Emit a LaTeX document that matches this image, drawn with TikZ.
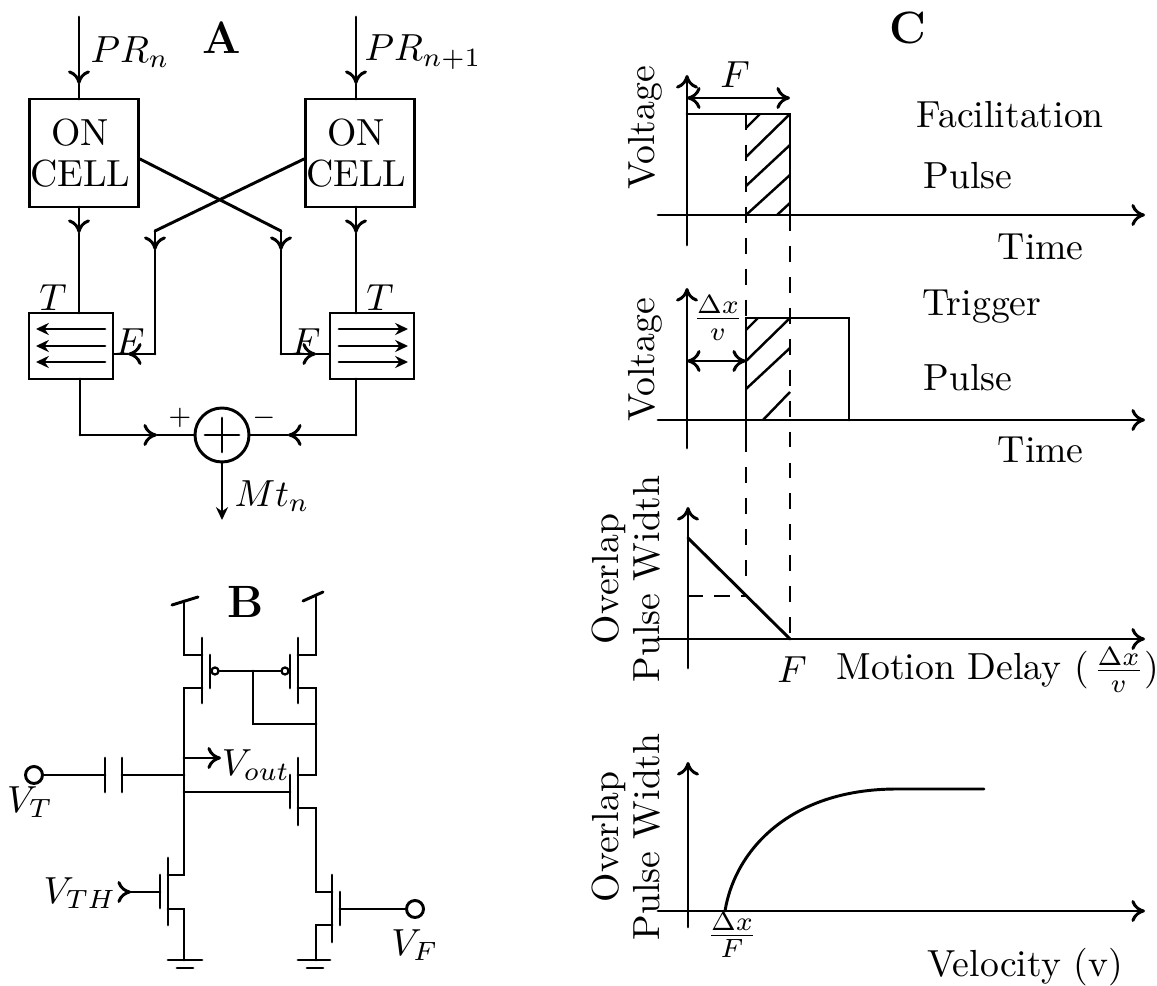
\documentclass[tikz,border=0pt]{standalone}
\usetikzlibrary{arrows.meta}
\newcommand\px{0.265pt}
\tikzset{
  wire/.style={line width=0.78pt,line cap=round,line join=miter},
  chev/.style={wire,-{Computer Modern Rightarrow[length=3.6pt,width=5.8pt]}},
  dchev/.style={wire,{Computer Modern Rightarrow[length=3.6pt,width=5.8pt]}-{Computer Modern Rightarrow[length=3.6pt,width=5.8pt]}},
  solidtip/.style={wire,-{Stealth[length=3.4pt,width=3.2pt]}},
  cellbox/.style={draw,line width=0.78pt,minimum width=109*\px,minimum height=108*\px,inner sep=0pt,align=center},
  tbox/.style={draw,line width=0.78pt,minimum width=84*\px,minimum height=66*\px,inner sep=0pt},
  sumnode/.style={draw,circle,line width=0.78pt,minimum size=54*\px,inner sep=0pt},
  pin/.style={draw,circle,fill=white,line width=0.78pt,minimum size=17*\px,inner sep=0pt},
  bubble/.style={draw,circle,fill=white,line width=0.6pt,minimum size=7*\px,inner sep=0pt},
  lab/.style={inner sep=0pt},
  vlab/.style={inner sep=0pt,rotate=90},
  heading/.style={inner sep=0pt,font=\large\bfseries},
  dashline/.style={wire,dash pattern=on 4.2pt off 4pt,line cap=butt},
  hatch/.style={line width=0.65pt}
}
\begin{document}
\begin{tikzpicture}[x=\px,y=-\px]
\useasboundingbox (0,0) rectangle (1157,986);

% ---------- A ----------
\node[heading] (headA) at (222,38) {A};
\coordinate (inL) at (79,17);
\coordinate (inR) at (356,17);
\node[cellbox] (cellL) at (84,153) {\hspace*{-2pt}ON\\[-1pt]\hspace*{-2pt}CELL};
\node[cellbox] (cellR) at (360,153) {\hspace*{-2pt}ON\\[-1pt]\hspace*{-2pt}CELL};
\node[tbox] (tL) at (71,346) {};
\node[tbox] (tR) at (372,346) {};
\node[sumnode] (sum) at (222,435) {};
\node[lab] (prn) at (130,52) {$PR_n$};
\node[lab] (prm) at (423,52) {$PR_{n+1}$};
\node[lab] (tlL) at (53,298) {$T$};
\node[lab] (tlR) at (380,298) {$T$};
\node[lab] (fL) at (130,342) {$F$};
\node[lab] (fR) at (306,342) {$F$};
\node[lab] (plus) at (180,418) {$\scriptstyle\mathbf{+}$};
\node[lab] (minus) at (264,418) {$\scriptstyle-$};
\node[lab] (mt) at (272,496) {$Mt_n$};
% inputs
\coordinate (tipInL) at (79,84);
\coordinate (tipInR) at (356,84);
\draw[chev] (inL) -- (tipInL);
\draw[wire] (tipInL) -- (79,99);
\draw[chev] (inR) -- (tipInR);
\draw[wire] (tipInR) -- (356,99);
% cell to T
\coordinate (tipDL) at (79,233);
\coordinate (tipDR) at (356,233);
\draw[chev] (79,207) -- (tipDL);
\draw[wire] (tipDL) -- (79,313);
\draw[chev] (356,207) -- (tipDR);
\draw[wire] (tipDR) -- (356,313);
% crossing
\coordinate (crossR) at (281,231);
\coordinate (crossL) at (155,231);
\coordinate (tipCR) at (281,250);
\coordinate (tipCL) at (155,250);
\coordinate (tipFR) at (316,354);
\coordinate (tipFL) at (128,354);
\draw[wire] (cellL.east |- 0,159) -- (crossR);
\draw[chev] (crossR) -- (tipCR);
\draw[wire] (tipCR) -- (281,354);
\draw[chev] (281,354) -- (tipFR);
\draw[wire] (tipFR) -- (tR.west |- 0,354);
\draw[wire] (cellR.west |- 0,159) -- (crossL);
\draw[chev] (crossL) -- (tipCL);
\draw[wire] (tipCL) -- (155,354);
\draw[chev] (155,354) -- (tipFL);
\draw[wire] (tipFL) -- (tL.east |- 0,354);
% arrows in T boxes
\foreach \yy in {329,346,362}{
  \draw[solidtip] (105,\yy) -- (36,\yy);
  \draw[solidtip] (339,\yy) -- (408,\yy);
}
% sum
\coordinate (tipSL) at (157,435);
\coordinate (tipSR) at (288,435);
\draw[wire] (80,379) -- (80,435);
\draw[chev] (80,435) -- (tipSL);
\draw[wire] (tipSL) -- (sum.west);
\draw[wire] (356,379) -- (356,435);
\draw[chev] (356,435) -- (tipSR);
\draw[wire] (tipSR) -- (sum.east);
\draw[wire] (205,435) -- (239,435);
\draw[wire] (222,418) -- (222,452);
\coordinate (outM) at (222,520);
\draw[solidtip] (sum.south) -- (outM);

% ---------- B ----------
\node[heading] (headB) at (246,602) {B};
\node[pin] (vt) at (34,775) {};
\node[pin] (vf) at (415,909) {};
\node[bubble] (bubL) at (215,671) {};
\node[bubble] (bubR) at (285,671) {};
\node[lab] (vtl) at (30,802) {$V_T$};
\node[lab] (vfl) at (415,945) {$V_F$};
\node[lab] (vth) at (80,893) {$V_{TH}$};
\node[lab] (vout) at (256,765) {$V_{out}$};
% pmos left
\draw[wire] (172,605) -- (198,597);
\draw[wire] (184,601) -- (184,655) -- (202,655);
\draw[wire] (202,638) -- (202,703);
\draw[wire] (210,655) -- (210,688);
\draw[wire] (202,688) -- (184,688) -- (184,875) -- (168,875);
% pmos right
\draw[wire] (303,601) -- (323,592);
\draw[wire] (316,595) -- (316,655) -- (298,655);
\draw[wire] (298,638) -- (298,703);
\draw[wire] (290,655) -- (290,688);
\draw[wire] (298,688) -- (316,688) -- (316,775) -- (298,775);
% gates
\draw[wire] (bubL) -- (bubR);
\coordinate (gateJ) at (253,671);
\draw[wire] (gateJ) -- (253,724) -- (316,724);
% vout
\draw[chev] (184,758) -- (221,758);
% capacitor
\draw[wire] (vt) -- (105,775);
\draw[wire] (105,758) -- (105,792);
\draw[wire] (122,758) -- (122,792);
\draw[wire] (122,775) -- (184,775);
% middle nmos
\draw[wire] (184,792) -- (290,792);
\draw[wire] (290,775) -- (290,808);
\draw[wire] (298,758) -- (298,825);
\draw[wire] (298,808) -- (316,808) -- (316,892) -- (332,892);
% lower right nmos
\draw[wire] (332,875) -- (332,942);
\draw[wire] (340,892) -- (340,925);
\draw[wire] (vf) -- (340,909);
\draw[wire] (332,925) -- (316,925) -- (316,960);
\draw[wire] (298,960) -- (330,960);
\draw[wire] (307,968) -- (323,968);
% lower left nmos
\draw[wire] (168,858) -- (168,925);
\draw[wire] (160,875) -- (160,908);
\draw[wire] (168,909) -- (184,909) -- (184,960);
\draw[wire] (168,960) -- (202,960);
\draw[wire] (177,968) -- (193,968);
\draw[wire] (130,892) -- (160,892);
\draw[chev] (127,892) -- (131,892);

% ---------- C ----------
\node[heading] (headC) at (908,28) {C};
% panel 1
\draw[chev] (687,245) -- (687,75);
\draw[chev] (658,215) -- (1145,215);
\draw[wire] (687,114) -- (790,114) -- (790,215);
\draw[dchev] (687,98) -- (790,98);
\node[lab] (f1) at (735,75) {$F$};
\node[vlab] (v1) at (645,128) {Voltage};
\node[lab,anchor=west] (fac) at (916,115) {Facilitation};
\node[lab,anchor=west] (pu1) at (923,176) {Pulse};
\node[lab,anchor=west] (ti1) at (997,247) {Time};
\draw[hatch] (746,128) -- (760,114);
\draw[hatch] (746,157) -- (790,114);
\draw[hatch] (746,186) -- (790,145);
\draw[hatch] (746,215) -- (790,175);
\draw[hatch] (777,215) -- (790,203);
% panel 2
\draw[chev] (687,448) -- (687,288);
\draw[chev] (658,420) -- (1145,420);
\draw[wire] (746,436) -- (746,318) -- (849,318) -- (849,420);
\draw[dchev] (687,361) -- (746,361);
\node[lab] (dxv) at (718,318) {$\frac{\Delta x}{v}$};
\node[vlab] (v2) at (645,360) {Voltage};
\node[lab,anchor=west] (tri) at (922,307) {Trigger};
\node[lab,anchor=west] (pu2) at (923,378) {Pulse};
\node[lab,anchor=west] (ti2) at (997,450) {Time};
\draw[hatch] (746,330) -- (758,318);
\draw[hatch] (746,361) -- (790,318);
\draw[hatch] (746,389) -- (790,348);
\draw[hatch] (763,420) -- (790,392);
% dashed
\draw[dashline] (746,114) -- (746,318);
\draw[dashline] (746,436) -- (746,590);
\draw[dashline] (790,215) -- (790,634);
% panel 3
\draw[chev] (688,668) -- (688,507);
\draw[chev] (658,639) -- (1145,639);
\draw[wire] (688,538) -- (790,639);
\draw[wire,dash pattern=on 4pt off 3pt,line cap=butt] (688,596) -- (746,596);
\node[vlab,align=center] (ov3) at (626,579) {Overlap\\[-1pt]Pulse Width};
\node[lab] (f3) at (792,670) {$F$};
\node[lab,anchor=west] (md) at (836,670) {Motion Delay ($\mkern2mu\frac{\Delta x}{v}$)};
% panel 4
\draw[chev] (688,927) -- (688,762);
\draw[chev] (658,911) -- (1145,911);
\draw[wire] (725,911) .. controls (735,850) and (790,789) .. (897,789) -- (984,789);
\node[vlab,align=center] (ov4) at (626,837) {Overlap\\[-1pt]Pulse Width};
\node[lab] (dxf) at (732,935) {$\frac{\Delta x}{F}$};
\node[lab,anchor=west] (vel) at (927,967) {Velocity (v)};
\end{tikzpicture}
\end{document}
